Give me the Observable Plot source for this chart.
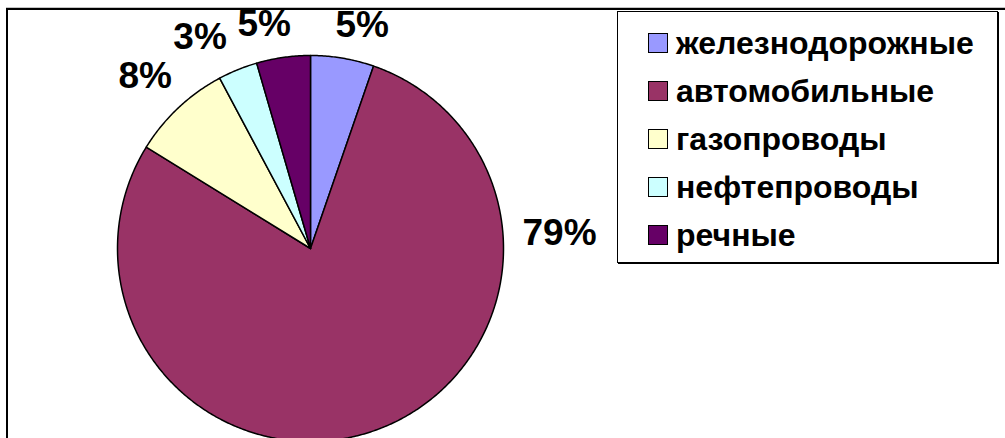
<!DOCTYPE html>
<html>
<head>
<meta charset="utf-8">
<script src="https://cdn.jsdelivr.net/npm/d3@7"></script>
<script src="https://cdn.jsdelivr.net/npm/@observablehq/plot@0.6"></script>
<style>
  body { margin: 0; background: #fff; font-family: "Liberation Sans", Arial, sans-serif; }
  #wrap { position: relative; width: 1005px; height: 438px; overflow: hidden; background: #fff; }
  #frame { position: absolute; left: 6px; top: 8px; width: 1200px; height: 600px;
           border-left: 2px solid #000; border-top: 2px solid #000; box-shadow: 0 -1px 0 #c4c4c4; }
  #chart { position: absolute; left: 0; top: 0; }
  #legend { position: absolute; left: 617px; top: 11px; width: 379px; height: 250px;
            border: 1px solid #000; box-shadow: 1px 1px 0 #000; background: #fff; }
  #legend .items { padding-top: 7px; }
  #legend .item { display: flex; align-items: center; height: 48px; }
  #legend .sw { width: 18px; height: 18px; border: 1px solid #000; margin-left: 30px; margin-right: 8px; flex: none; }
  #legend .lbl { font-weight: bold; font-size: 32px; color: #000; white-space: nowrap; line-height: 1; }
</style>
</head>
<body>
<div id="wrap">
  <div id="frame"></div>
  <div id="chart"></div>
  <div id="legend"><div class="items"></div></div>
</div>
<script>
// ---- data ----
const categories = ["железнодорожные", "автомобильные", "газопроводы", "нефтепроводы", "речные"];
const shares = [5.3, 78.5, 8.4, 3.3, 4.5];
const percentLabels = ["5%", "79%", "8%", "3%", "5%"];
const palette = ["#9999FF", "#993366", "#FFFFCC", "#CCFFFF", "#660066"];

// ---- layout ----
const W = 1005, H = 438;
const cx = 310, cy = 248, R = 193;
const labelFont = 37;
const labelMinGap = 12;       // px kept between neighbouring labels
const clippedLabelAngle = 89; // degrees: side position used when a label would fall below the visible area

// slices (angles clockwise from 12 o'clock)
const total = d3.sum(shares);
let acc = 0;
const slices = shares.map((v, i) => {
  const a0 = acc / total * 2 * Math.PI; acc += v;
  const a1 = acc / total * 2 * Math.PI;
  return {cat: categories[i], label: percentLabels[i], a0, a1, mid: (a0 + a1) / 2};
});

// polygon points in unit (data) coordinates, y up
const pts = [];
for (const s of slices) {
  pts.push({cat: s.cat, x: 0, y: 0});
  const n = Math.max(2, Math.ceil((s.a1 - s.a0) / (Math.PI / 360)));
  for (let k = 0; k <= n; k++) {
    const a = s.a0 + (s.a1 - s.a0) * k / n;
    pts.push({cat: s.cat, x: Math.sin(a), y: Math.cos(a)});
  }
  pts.push({cat: s.cat, x: 0, y: 0});
}

// label placement: outside end along the mid-angle, pushed away by the label's ink box
const ctx = document.createElement("canvas").getContext("2d");
ctx.font = `bold ${labelFont}px "Liberation Sans", Arial, sans-serif`;
const sgn = v => Math.abs(v) < 1e-6 ? 0 : Math.sign(v);
const placed = slices.map(s => {
  const m = ctx.measureText(s.label);
  const w = m.actualBoundingBoxLeft + m.actualBoundingBoxRight;
  const h = m.actualBoundingBoxAscent + m.actualBoundingBoxDescent;
  const outside = (a) => {
    const sn = Math.sin(a), cs = Math.cos(a);
    return {x: (R + 26) * sn + 0.6 * sgn(sn) * w / 2, y: (R + 6) * cs + sgn(cs) * (h + 2)};
  };
  const corner = (a) => {
    const sn = Math.sin(a), cs = Math.cos(a), d = R + 20;
    return {x: d * sn + sgn(sn) * w / 2, y: d * cs + sgn(cs) * h / 2};
  };
  let p = outside(s.mid);
  if (cy - p.y + h / 2 > H) p = corner(clippedLabelAngle * Math.PI / 180);
  return {label: s.label, x: p.x, y: p.y, w, h};
});
// simple collision pass: push the label farther from the vertical axis outward
for (let it = 0; it < 3; it++) {
  for (const a of placed) for (const b of placed) {
    if (a === b || a.x > b.x) continue;
    const vOverlap = Math.abs(a.y - b.y) < (a.h + b.h) / 2;
    const gap = (b.x - b.w / 2) - (a.x + a.w / 2);
    if (vOverlap && gap < labelMinGap) {
      const d = labelMinGap - gap;
      if (Math.abs(a.x) > Math.abs(b.x)) a.x -= d; else b.x += d;
    }
  }
}
const labels = placed.map(p => ({label: p.label, x: p.x / R, y: p.y / R}));

const chart = Plot.plot({
  width: W, height: H, margin: 0,
  x: {domain: [-1, 1], range: [cx - R, cx + R], axis: null},
  y: {domain: [-1, 1], range: [cy + R, cy - R], axis: null},
  color: {domain: categories, range: palette},
  style: {background: "transparent", fontFamily: "'Liberation Sans', Arial, sans-serif", overflow: "hidden"},
  marks: [
    Plot.line(pts, {x: "x", y: "y", z: "cat", fill: "cat", stroke: "#000", strokeWidth: 1.5, strokeLinejoin: "round", curve: "linear"}),
    Plot.text(labels, {x: "x", y: "y", text: "label", fontSize: labelFont, fontWeight: "bold", fill: "#000", textAnchor: "middle", lineAnchor: "middle", dy: 1})
  ]
});
document.getElementById("chart").appendChild(chart);

// legend
const items = document.querySelector("#legend .items");
categories.forEach((c, i) => {
  const row = document.createElement("div");
  row.className = "item";
  const sw = document.createElement("div");
  sw.className = "sw";
  sw.style.background = palette[i];
  const t = document.createElement("span");
  t.className = "lbl";
  t.textContent = c;
  row.appendChild(sw); row.appendChild(t);
  items.appendChild(row);
});
</script>
</body>
</html>
